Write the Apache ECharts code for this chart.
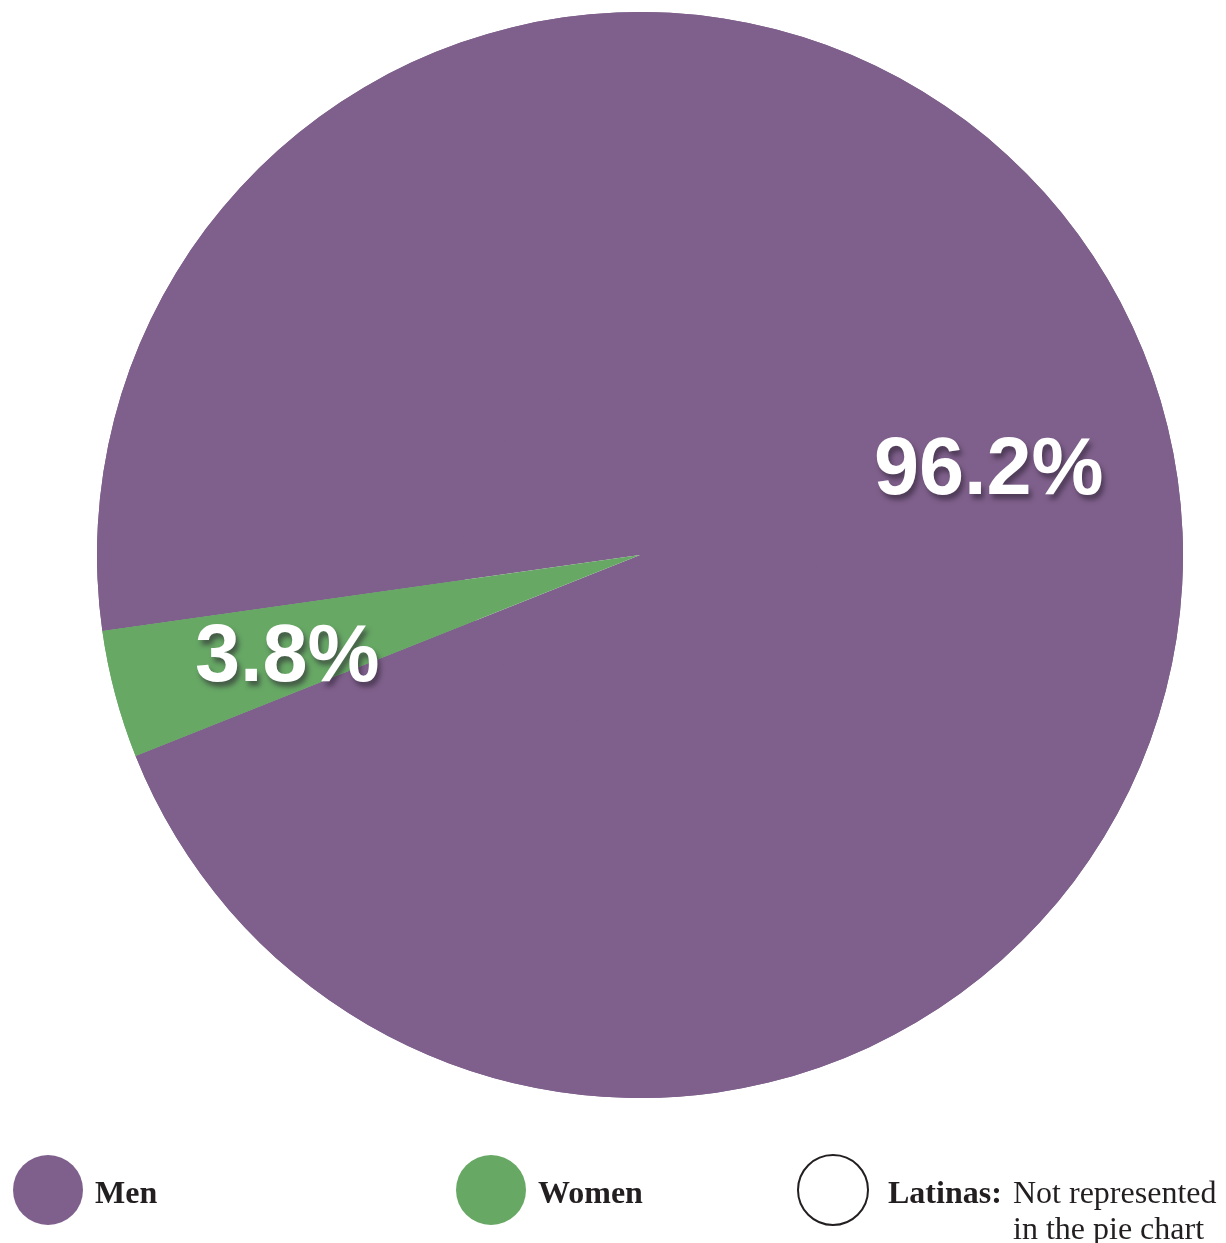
<!DOCTYPE html>
<html>
<head>
<meta charset="utf-8">
<script src="https://cdn.jsdelivr.net/npm/echarts@6/dist/echarts.min.js"></script>
<style>
  html, body { margin: 0; padding: 0; background: #fff; }
  #chart { width: 1226px; height: 1243px; }
</style>
</head>
<body>
<div id="chart"></div>
<script>
// data
const categories = ['Men', 'Women']
const shares = [96.2, 3.8]
const colors = ['#7f608c', '#67a865']
const noteName = 'Latinas'
const noteText = 'Not represented'
const noteText2 = 'in the pie chart'

const chart = echarts.init(document.getElementById('chart'))

const pieData = categories.map((name, i) => ({ name, value: shares[i], itemStyle: { color: colors[i] } }))

const serif = '"Liberation Serif", "Times New Roman", serif'
const boldText = { fontFamily: serif, fontSize: 32, fontWeight: 'bold', color: '#231f20', lineHeight: 36 }
const plainText = { fontFamily: serif, fontSize: 32, fontWeight: 'normal', color: '#231f20', lineHeight: 36 }

function legendAt(left, top, name, extra) {
  return {
    data: [Object.assign({ name, icon: 'circle' }, extra || {})],
    left, top,
    itemWidth: 70, itemHeight: 70,
    formatter: '{t|{name}}',
    textStyle: Object.assign({}, boldText, {
      padding: [10, 0, 0, 7],
      rich: { t: boldText },
    }),
    selectedMode: false,
  }
}

chart.setOption({
  animation: false,
  legend: [
    legendAt(8, 1150, 'Men'),
    legendAt(451, 1150, 'Women'),
    Object.assign(legendAt(792, 1126, noteName, {
      itemStyle: { color: '#fff', borderColor: '#231f20', borderWidth: 2 },
    }), {
      formatter: () => `{b|${noteName}:}{r|${noteText}}\n{sp|}{r|${noteText2}}`,
      textStyle: Object.assign({}, boldText, {
        padding: [46, 0, 0, 15],
        rich: {
          b: Object.assign({}, boldText, { width: 125 }),
          r: plainText,
          sp: { width: 125, lineHeight: 36 },
        },
      }),
    }),
  ],
  series: [
    {
      type: 'pie',
      center: [640, 555],
      radius: 543,
      startAngle: 188.05,
      clockwise: true,
      silent: true,
      label: { show: false },
      labelLine: { show: false },
      data: pieData.concat([{ name: noteName, value: 0, itemStyle: { color: '#fff', borderWidth: 0 } }]),
    },
    {
      // transparent ring, only to place the percentage labels
      type: 'pie',
      center: [640, 555],
      radius: [177, 543],
      startAngle: 188.05,
      clockwise: true,
      silent: true,
      itemStyle: { color: 'rgba(0,0,0,0)' },
      label: {
        show: true,
        position: 'inside',
        formatter: (p) => p.value + '%',
        fontFamily: '"Liberation Sans", Arial, Helvetica, sans-serif',
        fontWeight: 'bold',
        fontSize: 81,
        color: '#fff',
        offset: [-2, 10],
        textShadowColor: 'rgba(40,30,45,0.55)',
        textShadowBlur: 5,
        textShadowOffsetX: 3,
        textShadowOffsetY: 5,
      },
      labelLine: { show: false },
      data: pieData,
    },
  ],
})
</script>
</body>
</html>
